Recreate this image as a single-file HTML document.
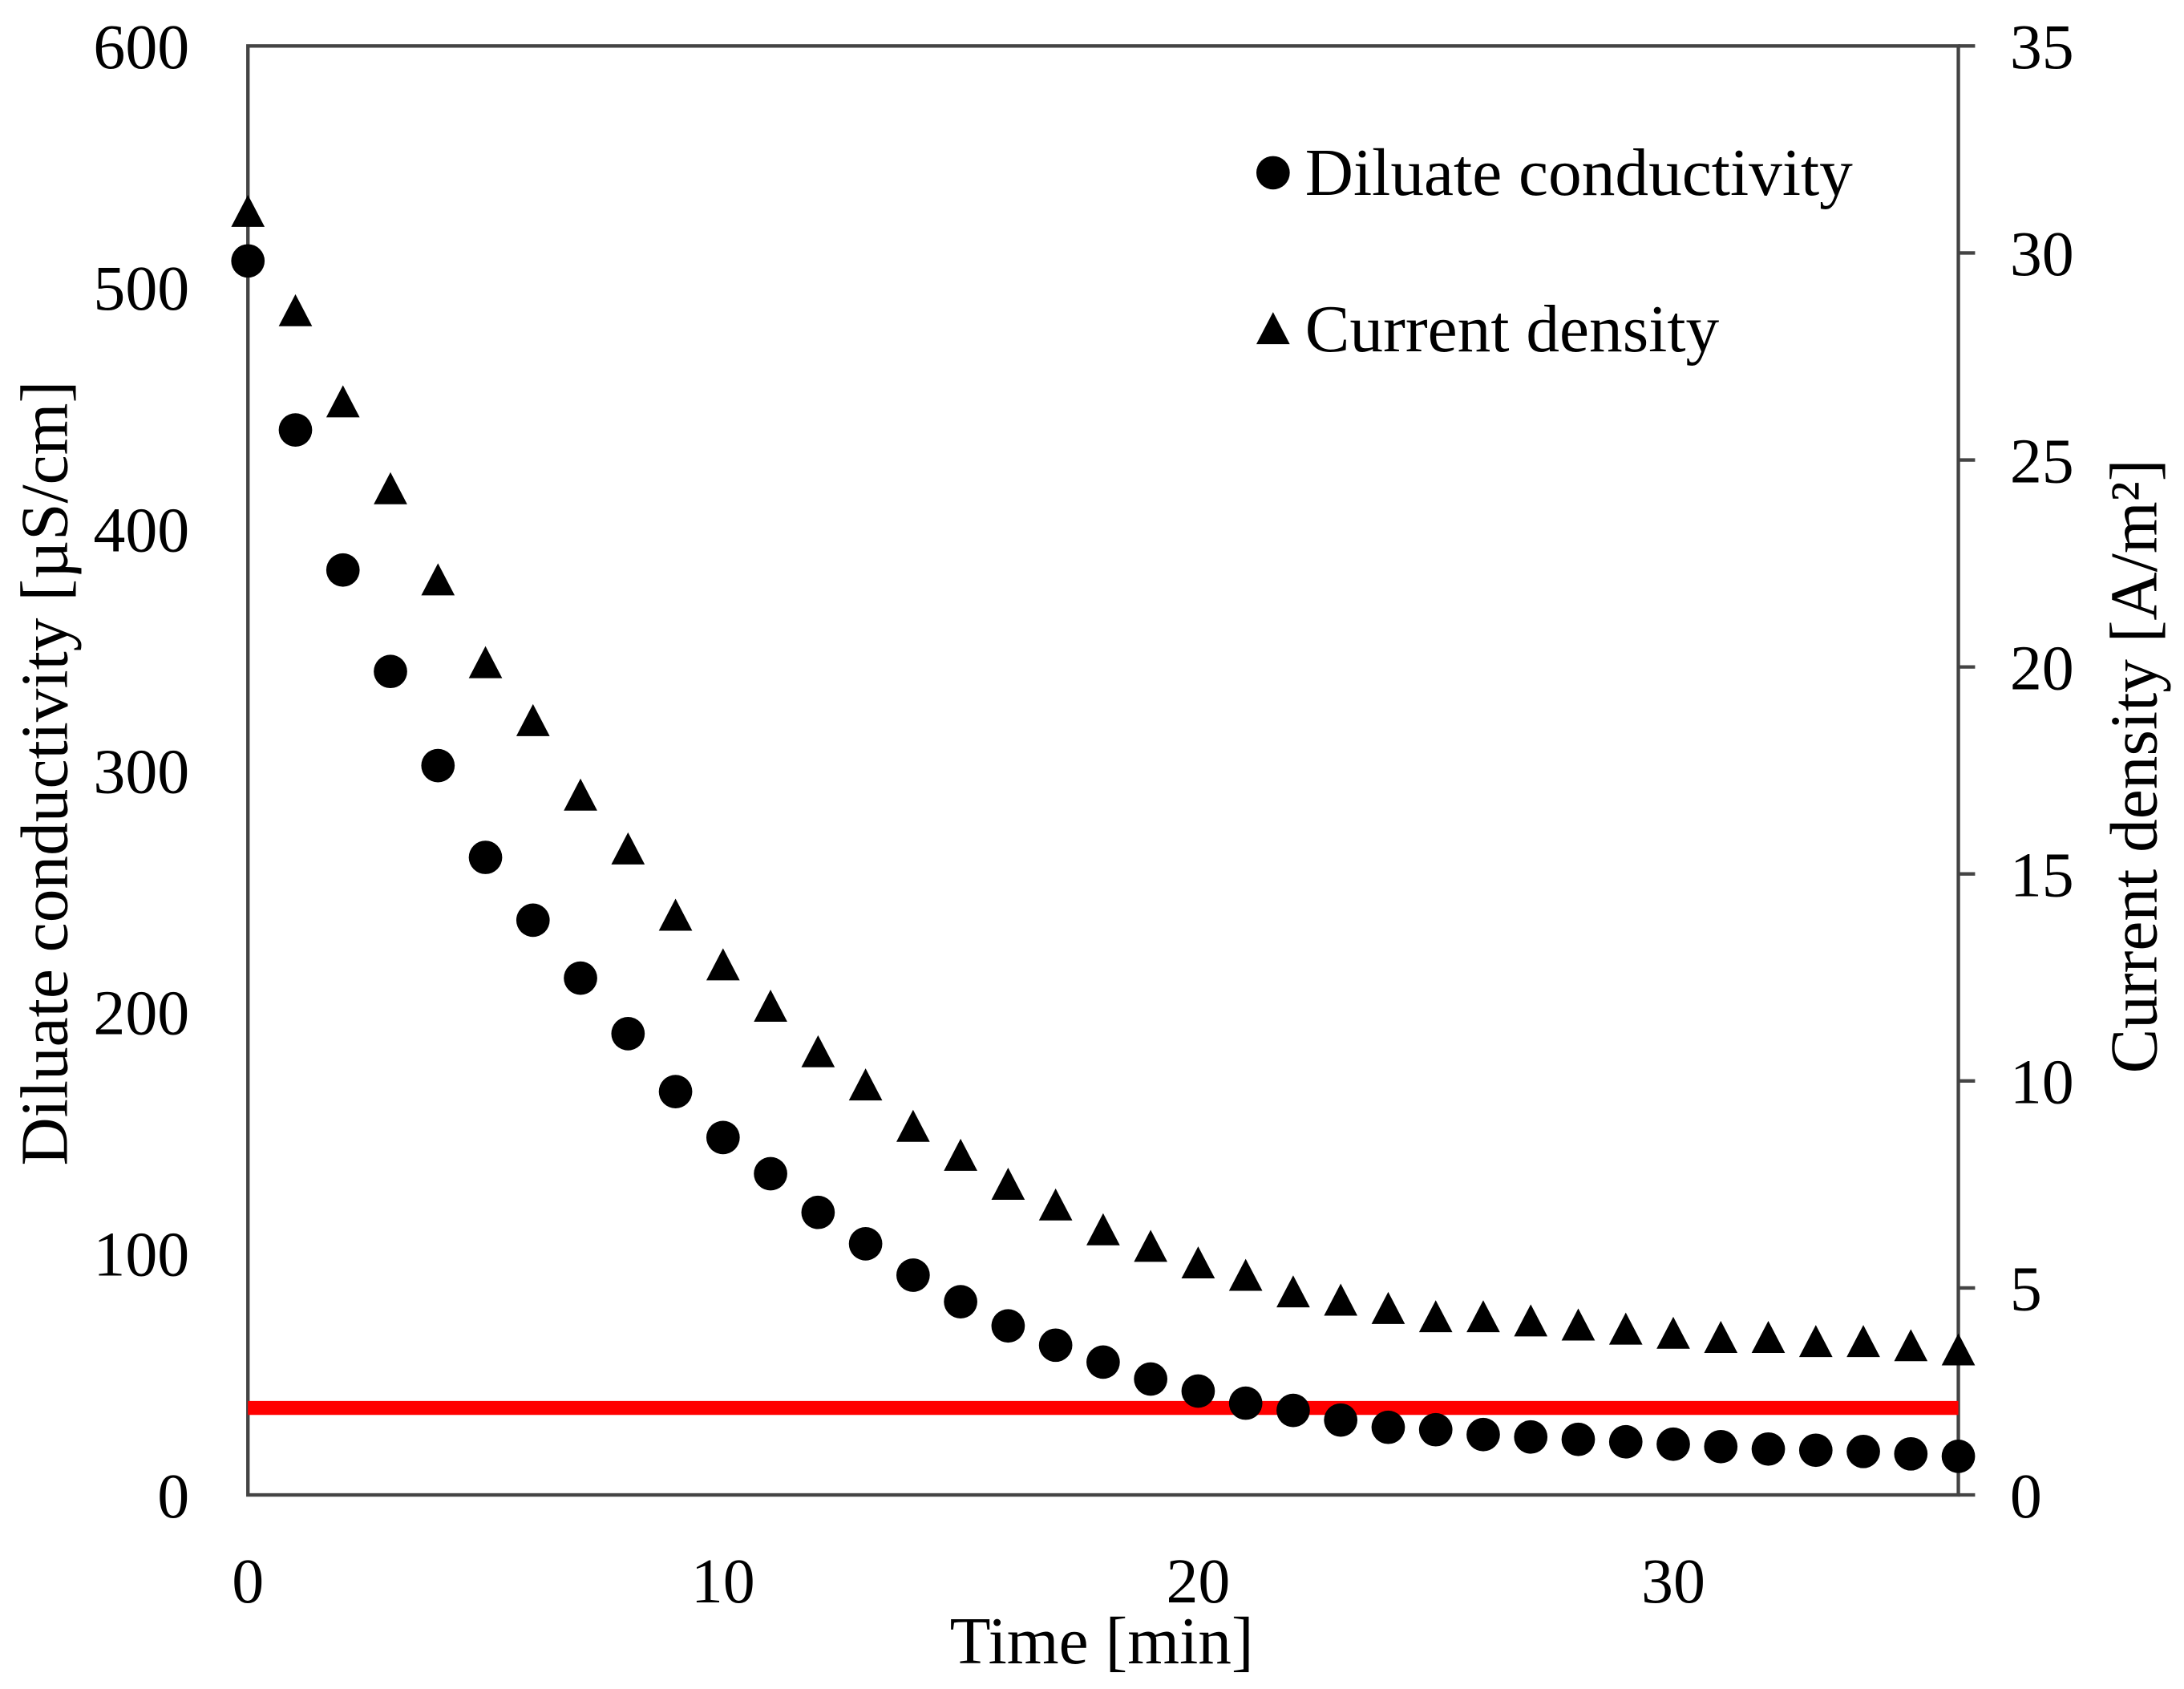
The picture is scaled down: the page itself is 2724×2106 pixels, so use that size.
<!DOCTYPE html>
<html><head><meta charset="utf-8"><style>
html,body{margin:0;padding:0;background:#fff;}
svg{display:block;}
text{font-family:"Liberation Serif",serif;fill:#000;}
</style></head><body>
<svg id="chart" width="2724" height="2106" viewBox="0 0 1568 1212.3" preserveAspectRatio="none" xmlns="http://www.w3.org/2000/svg">
<g id="axes"></g>
<g id="marks"></g>
<g id="legend">
  <circle cx="914" cy="124" r="12" fill="#000"/>
  <text x="937" y="140" font-size="48">Diluate conductivity</text>
  <polygon points="914,224 902,247 926,247" fill="#000"/>
  <text x="937" y="252" font-size="48">Current density</text>
</g>
<text x="791" y="1194" font-size="48" text-anchor="middle">Time [min]</text>
<text transform="translate(48,555) rotate(-90)" font-size="48" text-anchor="middle">Diluate conductivity [µS/cm]</text>
<text transform="translate(1548,550) rotate(-90)" font-size="48" text-anchor="middle">Current density [A/m²]</text>
</svg>
<script>
const timeMin = [0,1,2,3,4,5,6,7,8,9,10,11,12,13,14,15,16,17,18,19,20,21,22,23,24,25,26,27,28,29,30,31,32,33,34,35,36];
const conductivity = [511,441,383,341,302,264,238,214,191,167,148,133,117,104,91,80,70,62,55,48,43,38,35,31,28,27,25,24,23,22,21,20,19,18.5,18,17,16];
const currentDensity = [31.0,28.6,26.4,24.3,22.1,20.1,18.7,16.9,15.6,14.0,12.8,11.8,10.7,9.9,8.9,8.2,7.5,7.0,6.4,6.0,5.6,5.3,4.9,4.7,4.5,4.3,4.3,4.2,4.1,4.0,3.9,3.8,3.8,3.7,3.7,3.6,3.5];
const targetConductivity = [36];
const xTicks = [0,10,20,30];
const leftTicks = [0,100,200,300,400,500,600];
const rightTicks = [0,5,10,15,20,25,30,35];

const L=178,R=1406,T=33,B=1073;
const X0=0,X1=36,YL1=600,YR1=35;
const xs=v=>L+(v-X0)/(X1-X0)*(R-L);
const yl=v=>B-v/YL1*(B-T);
const yr=v=>B-v/YR1*(B-T);
const NS='http://www.w3.org/2000/svg';
function mk(tag,attrs,parent,txt){const e=document.createElementNS(NS,tag);for(const k in attrs)e.setAttribute(k,attrs[k]);if(txt!==undefined)e.textContent=txt;parent.appendChild(e);return e;}
const axes=document.getElementById('axes'),marks=document.getElementById('marks');

let e=mk('rect',{x:L,y:T,width:R-L,height:B-T,fill:'none',stroke:'#444','stroke-width':2.5},axes);



xTicks.forEach(v=>{const t=mk('text',{x:xs(v),y:1150,'font-size':46,'text-anchor':'middle'},axes,String(v));

});
leftTicks.forEach(v=>{const t=mk('text',{x:136,y:yl(v)+16,'font-size':46,'text-anchor':'end'},axes,String(v));

});
rightTicks.forEach(v=>{const y=yr(v);
const l=mk('line',{x1:R,x2:R+12,y1:y,y2:y,stroke:'#444','stroke-width':2.5},axes);


const t=mk('text',{x:1443,y:y+16,'font-size':46},axes,String(v));

});

const rl=mk('line',{x1:L,x2:R,y1:yl(targetConductivity[0]),y2:yl(targetConductivity[0]),stroke:'#ff0000','stroke-width':10},marks);



timeMin.forEach((t,i)=>{
 const cx=xs(t),cy=yr(currentDensity[i]);
 const p=mk('polygon',{points:`${cx},${cy-12} ${cx-12},${cy+11} ${cx+12},${cy+11}`,fill:'#000'},marks);
 
 
 const c=mk('circle',{cx:cx,cy:yl(conductivity[i]),r:12,fill:'#000'},marks);
 
 
});
</script>
</body></html>
